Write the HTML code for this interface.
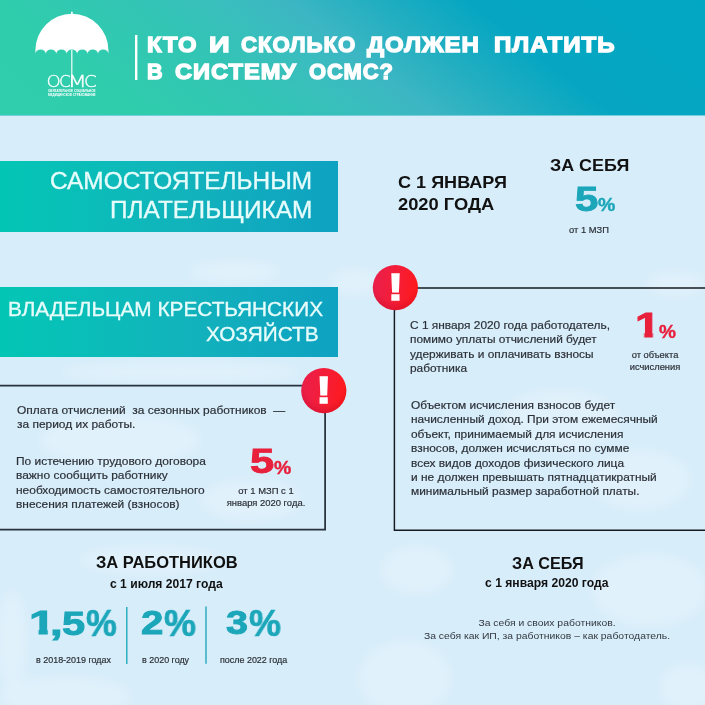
<!DOCTYPE html>
<html lang="ru">
<head>
<meta charset="utf-8">
<title>Кто и сколько должен платить в систему ОСМС?</title>
<style>
*{margin:0;padding:0;box-sizing:border-box}
html,body{width:705px;height:705px;overflow:hidden}
body{position:relative;background:#d7edfa;font-family:"Liberation Sans",sans-serif;color:#333;}
.abs{position:absolute;white-space:nowrap}
.abs{will-change:transform}
#hdr{left:0;top:0;width:705px;height:115px;box-shadow:0 1px 0 rgba(40,180,192,0.55);background:linear-gradient(38deg,#30ceac 0%,#30cdad 17%,#32c5b4 32%,#3abdbe 44%,#3cb6c3 51%,#22aec1 61%,#06a6c2 72%,#02a7c3 100%)}
.ban{left:0;width:338px;background:linear-gradient(90deg,#03c6b5 0%,#0bbcb9 30%,#12b3bc 55%,#10a9bf 80%,#0ea2c1 100%)}
.big{font-weight:bold;line-height:1}
</style>
</head>
<body>
<div id="hdr" class="abs"></div>
<div class="abs" id="t0" style="top:33.71px;font-size:21.6px;line-height:21.6px;color:#fff;font-weight:bold;letter-spacing:0.9px;left:146.78px;transform:scaleX(1.103);transform-origin:0 50%;-webkit-text-stroke:1.3px #fff;">КТО</div>
<div class="abs" id="t1" style="top:33.71px;font-size:21.6px;line-height:21.6px;color:#fff;font-weight:bold;letter-spacing:0.9px;left:208.52px;transform:scaleX(1.3289);transform-origin:0 50%;-webkit-text-stroke:1.3px #fff;">И</div>
<div class="abs" id="t2" style="top:33.71px;font-size:21.6px;line-height:21.6px;color:#fff;font-weight:bold;letter-spacing:0.9px;left:240.77px;transform:scaleX(1.0287);transform-origin:0 50%;-webkit-text-stroke:1.3px #fff;">СКОЛЬКО</div>
<div class="abs" id="t3" style="top:33.71px;font-size:21.6px;line-height:21.6px;color:#fff;font-weight:bold;letter-spacing:0.9px;left:366.62px;transform:scaleX(1.1103);transform-origin:0 50%;-webkit-text-stroke:1.3px #fff;">ДОЛЖЕН</div>
<div class="abs" id="t4" style="top:33.71px;font-size:21.6px;line-height:21.6px;color:#fff;font-weight:bold;letter-spacing:0.9px;left:494.18px;transform:scaleX(1.1164);transform-origin:0 50%;-webkit-text-stroke:1.3px #fff;">ПЛАТИТЬ</div>
<div class="abs" id="t5" style="top:61.41px;font-size:21.6px;line-height:21.6px;color:#fff;font-weight:bold;letter-spacing:0.9px;left:146.81px;transform:scaleX(1.0008);transform-origin:0 50%;-webkit-text-stroke:1.3px #fff;">В</div>
<div class="abs" id="t6" style="top:61.41px;font-size:21.6px;line-height:21.6px;color:#fff;font-weight:bold;letter-spacing:0.9px;left:175.21px;transform:scaleX(1.0947);transform-origin:0 50%;-webkit-text-stroke:1.3px #fff;">СИСТЕМУ</div>
<div class="abs" id="t7" style="top:61.41px;font-size:21.6px;line-height:21.6px;color:#fff;font-weight:bold;letter-spacing:0.9px;left:309.06px;transform:scaleX(1.0163);transform-origin:0 50%;-webkit-text-stroke:1.3px #fff;">ОСМС?</div>
<svg class="abs" style="left:0;top:116px" width="705" height="589" viewBox="0 116 705 589">
<defs><filter id="bl" x="-30%" y="-30%" width="160%" height="160%"><feGaussianBlur stdDeviation="6"/></filter></defs>
<g fill="#fff" opacity="0.24" filter="url(#bl)">
<ellipse cx="417" cy="570" rx="36" ry="24"/>
<ellipse cx="405" cy="678" rx="46" ry="38"/>
<ellipse cx="650" cy="590" rx="58" ry="36"/>
<ellipse cx="688" cy="688" rx="28" ry="24"/>
<ellipse cx="65" cy="697" rx="66" ry="20"/>
<ellipse cx="12" cy="640" rx="14" ry="50"/>
<ellipse cx="235" cy="272" rx="46" ry="11"/>
<ellipse cx="355" cy="282" rx="26" ry="13"/>
<ellipse cx="676" cy="284" rx="30" ry="12"/>
<ellipse cx="180" cy="372" rx="120" ry="10"/>
<ellipse cx="150" cy="560" rx="70" ry="14"/>
<ellipse cx="560" cy="420" rx="60" ry="30"/>
<ellipse cx="120" cy="440" rx="80" ry="26"/>
<ellipse cx="250" cy="500" rx="50" ry="20"/>
<ellipse cx="640" cy="480" rx="50" ry="30"/>
</g>
</svg>
<div class="abs ban" style="top:161px;height:71px"></div>
<div class="abs" id="b1" style="top:169.42px;font-size:24.42px;line-height:24.42px;color:#e6fcfb;right:393px;-webkit-text-stroke:0.35px #e6fcfb;">САМОСТОЯТЕЛЬНЫМ</div>
<div class="abs" id="b2" style="top:197.92px;font-size:24.42px;line-height:24.42px;color:#e6fcfb;right:393px;-webkit-text-stroke:0.35px #e6fcfb;">ПЛАТЕЛЬЩИКАМ</div>
<div class="abs ban" style="top:287px;height:70px"></div>
<div class="abs" id="b3" style="top:298.99px;font-size:20.8px;line-height:20.8px;color:#e6fcfb;left:7.6px;-webkit-text-stroke:0.35px #e6fcfb;">ВЛАДЕЛЬЦАМ КРЕСТЬЯНСКИХ</div>
<div class="abs" id="b4" style="top:323.79px;font-size:20.8px;line-height:20.8px;color:#e6fcfb;right:386.5px;-webkit-text-stroke:0.35px #e6fcfb;">ХОЗЯЙСТВ</div>
<svg class="abs" style="left:0;top:0" width="705" height="705" viewBox="0 0 705 705">
<defs>
<linearGradient id="rg" x1="0" y1="0.35" x2="1" y2="0.5"><stop offset="0" stop-color="#ea1f4b"/><stop offset="0.55" stop-color="#f51d36"/><stop offset="1" stop-color="#ff1a1c"/></linearGradient>
<radialGradient id="rs" cx="0.5" cy="0.35" r="0.75"><stop offset="0.6" stop-color="#b00020" stop-opacity="0"/><stop offset="1" stop-color="#b00020" stop-opacity="0.45"/></radialGradient>

</defs>
<!-- header bar -->
<rect x="135" y="35" width="2.4" height="45" fill="#fff"/>
<!-- umbrella logo -->
<g fill="#fff">
<path d="M35.4 50.3 A36.5 36.6 0 0 1 108.4 50.3 L108.4 53.8 A5.2 4.4 0 0 0 98 53.8 A5.2 4.4 0 0 0 87.55 53.8 A5.2 4.4 0 0 0 77.1 53.8 A5.2 4.4 0 0 0 66.7 53.8 A5.2 4.4 0 0 0 56.25 53.8 A5.2 4.4 0 0 0 45.8 53.8 A5.2 4.4 0 0 0 35.4 53.8 Z"/>
<rect x="71.1" y="11.6" width="1.6" height="3" rx="0.8"/>
<rect x="71.25" y="50" width="1.15" height="37"/>
</g>
<g fill="#fff" stroke="#fff" stroke-width="0.3" font-family="'DejaVu Sans',sans-serif" font-weight="200" font-size="16.2">
<text id="lo1" transform="translate(48 0) scale(1.12 1)" x="-1.3" y="87">О</text><text id="lo2" transform="translate(60.4 0) scale(1.04 1)" x="-1.3" y="87">С</text><text id="lo3" transform="translate(71.3 0) scale(1.36 1)" x="-2.6" y="87">М</text><text id="lo4" transform="translate(85.4 0) scale(1.13 1)" x="-1.3" y="87">С</text>
</g>
<g fill="#fff" font-family="'Liberation Sans',sans-serif" font-weight="bold" font-size="3.5">
<text x="48" y="92" textLength="47.6" lengthAdjust="spacingAndGlyphs">ОБЯЗАТЕЛЬНОЕ СОЦИАЛЬНОЕ</text>
<text x="48" y="96" textLength="47.6" lengthAdjust="spacingAndGlyphs">МЕДИЦИНСКОЕ СТРАХОВАНИЕ</text>
</g>
<!-- boxes -->
<g fill="none" stroke="#161b21" stroke-width="1.45">
<polyline points="706,287.9 394.4,287.9 394.4,530.3 706,530.3"/>
<polyline points="-1,385.7 325.1,385.7 325.1,529.6 -1,529.6" stroke="#28323d" stroke-width="1.75"/>
</g>
<g stroke="#1ba6b9" stroke-width="1.35"><line x1="126.8" y1="607" x2="126.8" y2="664"/><line x1="206" y1="606.6" x2="206" y2="663.8"/></g>
<g transform="translate(395.4 287.6)"><circle r="22.6" fill="url(#rg)"/><circle r="22.6" fill="url(#rs)"/>
<text x="0" y="12.3" text-anchor="middle" font-family="'Liberation Sans',sans-serif" font-weight="bold" font-size="37.6" fill="#fff" stroke="#fff" stroke-width="1.5" transform="scale(1.2,1)">!</text></g>
<g transform="translate(323.8 390.6)"><circle r="22.6" fill="url(#rg)"/><circle r="22.6" fill="url(#rs)"/>
<text x="0" y="12.3" text-anchor="middle" font-family="'Liberation Sans',sans-serif" font-weight="bold" font-size="37.6" fill="#fff" stroke="#fff" stroke-width="1.5" transform="scale(1.2,1)">!</text></g>
</svg>
<div class="abs" id="h1" style="top:174.13px;font-size:16.5px;line-height:16.5px;color:#111;font-weight:bold;left:397.6px;transform:scaleX(1.095);transform-origin:0 50%;">С 1 ЯНВАРЯ</div>
<div class="abs" id="h2" style="top:195.83px;font-size:16.5px;line-height:16.5px;color:#111;font-weight:bold;left:397.6px;transform:scaleX(1.11);transform-origin:0 50%;">2020 ГОДА</div>
<div class="abs" id="h3" style="top:157.33px;font-size:16.5px;line-height:16.5px;color:#111;font-weight:bold;left:550.2px;transform:scaleX(1.085);transform-origin:0 50%;">ЗА СЕБЯ</div>
<div class="abs big" id="n1" style="left:574.7px;top:181.01px;font-size:35.3px;line-height:35.3px;color:#1ba6b9;transform:scaleX(1.19);transform-origin:0 50%;-webkit-text-stroke:0.9px #1ba6b9;">5</div>
<div class="abs big" id="n1p" style="left:597.6px;top:196.34px;font-size:18.5px;line-height:18.5px;color:#1ba6b9;transform:scaleX(1.05);transform-origin:0 50%;-webkit-text-stroke:0.4px #1ba6b9;">%</div>
<div class="abs" id="s1" style="top:225.63px;font-size:8.7px;line-height:8.7px;color:#2b2f36;left:388.79999999999995px;width:400px;text-align:center;transform:scaleX(1.0747);transform-origin:50% 50%;-webkit-text-stroke:0.18px #2b2f36;">от 1 МЗП</div>
<div class="abs" id="p1" style="top:318.01px;font-size:11.0px;line-height:14.35px;color:#2b2f36;left:409.8px;transform:scaleX(1.08);transform-origin:0 50%;-webkit-text-stroke:0.18px #2b2f36;">С 1 января 2020 года работодатель,<br>помимо уплаты отчислений будет<br>удерживать и оплачивать взносы<br>работника</div>
<div class="abs" id="p2" style="top:398.49px;font-size:11.0px;line-height:14.4px;color:#2b2f36;left:410.9px;transform:scaleX(1.0818);transform-origin:0 50%;-webkit-text-stroke:0.18px #2b2f36;">Объектом исчисления взносов будет<br>начисленный доход. При этом ежемесячный<br>объект, принимаемый для исчисления<br>взносов, должен исчисляться по сумме<br>всех видов доходов физического лица<br>и не должен превышать пятнадцатикратный<br>минимальный размер заработной платы.</div>
<div class="abs big" id="n2" style="left:635.3px;top:306.51px;font-size:35.3px;line-height:35.3px;color:#e8203c;transform:scaleX(1.28);transform-origin:0 50%;-webkit-text-stroke:0.9px #e8203c;clip-path:polygon(-3px -3px,130% -3px,130% 25.42px,13.99px 25.42px,13.99px 120%,7.19px 120%,7.19px 25.42px,-3px 25.42px);">1</div>
<div class="abs big" id="n2p" style="left:658.6px;top:322.84px;font-size:18.5px;line-height:18.5px;color:#e8203c;transform:scaleX(1.03);transform-origin:0 50%;-webkit-text-stroke:0.4px #e8203c;">%</div>
<div class="abs" id="s2" style="top:350.03px;font-size:8.7px;line-height:11.5px;color:#2b2f36;left:505.25px;width:300px;text-align:center;transform:scaleX(1.0747);transform-origin:50% 50%;-webkit-text-stroke:0.18px #2b2f36;">от объекта<br>исчисления</div>
<div class="abs" id="p3" style="top:403.26px;font-size:11.0px;line-height:14.45px;color:#2b2f36;left:16.5px;transform:scaleX(1.0855);transform-origin:0 50%;-webkit-text-stroke:0.18px #2b2f36;">Оплата отчислений&nbsp; за сезонных работников&nbsp; —<br>за период их работы.</div>
<div class="abs" id="p4" style="top:453.96px;font-size:11.0px;line-height:14.25px;color:#2b2f36;left:15.9px;transform:scaleX(1.0864);transform-origin:0 50%;-webkit-text-stroke:0.18px #2b2f36;">По истечению трудового договора<br>важно сообщить работнику<br>необходимость самостоятельного<br>внесения платежей (взносов)</div>
<div class="abs big" id="n3" style="left:250.3px;top:443.31px;font-size:35.3px;line-height:35.3px;color:#e8203c;transform:scaleX(1.235);transform-origin:0 50%;-webkit-text-stroke:0.9px #e8203c;">5</div>
<div class="abs big" id="n3p" style="left:273.6px;top:458.74px;font-size:18.5px;line-height:18.5px;color:#e8203c;transform:scaleX(1.05);transform-origin:0 50%;-webkit-text-stroke:0.4px #e8203c;">%</div>
<div class="abs" id="s3" style="top:485.33px;font-size:8.7px;line-height:12.1px;color:#2b2f36;left:115.60000000000002px;width:300px;text-align:center;transform:scaleX(1.085);transform-origin:50% 50%;-webkit-text-stroke:0.18px #2b2f36;">от 1 МЗП с 1<br>января 2020 года.</div>
<div class="abs" id="h4" style="top:553.93px;font-size:16.5px;line-height:16.5px;color:#111;font-weight:bold;left:96px;">ЗА РАБОТНИКОВ</div>
<div class="abs" id="h5" style="top:577.84px;font-size:12.12px;line-height:12.12px;color:#111;font-weight:bold;left:109.6px;">с 1 июля 2017 года</div>
<div class="abs big" id="n4a" style="left:28.5px;top:606.36px;font-size:33px;line-height:33px;color:#1ba6b9;transform:scaleX(1.43);transform-origin:0 50%;-webkit-text-stroke:0.9px #1ba6b9;clip-path:polygon(-3px -3px,130% -3px,130% 23.76px,13.12px 23.76px,13.12px 120%,6.67px 120%,6.67px 23.76px,-3px 23.76px);">1</div>
<div class="abs big" id="n4b" style="left:49.8px;top:606.66px;font-size:33px;line-height:33px;color:#1ba6b9;transform:scaleX(1.38);transform-origin:0 50%;-webkit-text-stroke:0.9px #1ba6b9;">,</div>
<div class="abs big" id="n4c" style="left:62.3px;top:606.66px;font-size:33px;line-height:33px;color:#1ba6b9;transform:scaleX(1.26);transform-origin:0 50%;-webkit-text-stroke:0.9px #1ba6b9;">5</div>
<div class="abs big" id="n4d" style="left:86.2px;top:605.20px;font-size:37.2px;line-height:37.2px;color:#1ba6b9;transform:scaleX(0.93);transform-origin:0 50%;-webkit-text-stroke:0.7px #1ba6b9;">%</div>
<div class="abs big" id="n5a" style="left:140.6px;top:606.36px;font-size:33px;line-height:33px;color:#1ba6b9;transform:scaleX(1.22);transform-origin:0 50%;-webkit-text-stroke:0.9px #1ba6b9;">2</div>
<div class="abs big" id="n5b" style="left:164.1px;top:605.46px;font-size:37.6px;line-height:37.6px;color:#1ba6b9;transform:scaleX(0.955);transform-origin:0 50%;-webkit-text-stroke:0.7px #1ba6b9;">%</div>
<div class="abs big" id="n6a" style="left:226.2px;top:606.36px;font-size:33px;line-height:33px;color:#1ba6b9;transform:scaleX(1.2);transform-origin:0 50%;-webkit-text-stroke:0.9px #1ba6b9;">3</div>
<div class="abs big" id="n6b" style="left:249.1px;top:605.46px;font-size:37.6px;line-height:37.6px;color:#1ba6b9;transform:scaleX(0.955);transform-origin:0 50%;-webkit-text-stroke:0.7px #1ba6b9;">%</div>
<div class="abs" id="s4" style="top:655.99px;font-size:8.4px;line-height:8.4px;color:#2b2f36;left:36px;transform:scaleX(1.0663);transform-origin:0 50%;-webkit-text-stroke:0.18px #2b2f36;">в 2018-2019 годах</div>
<div class="abs" id="s5" style="top:655.99px;font-size:8.4px;line-height:8.4px;color:#2b2f36;left:142.2px;transform:scaleX(1.0663);transform-origin:0 50%;-webkit-text-stroke:0.18px #2b2f36;">в 2020 году</div>
<div class="abs" id="s6" style="top:655.99px;font-size:8.4px;line-height:8.4px;color:#2b2f36;left:220px;transform:scaleX(1.0663);transform-origin:0 50%;-webkit-text-stroke:0.18px #2b2f36;">после 2022 года</div>
<div class="abs" id="h6" style="top:554.68px;font-size:16.2px;line-height:16.2px;color:#111;font-weight:bold;left:511.6px;">ЗА СЕБЯ</div>
<div class="abs" id="h7" style="top:577.21px;font-size:12.15px;line-height:12.15px;color:#111;font-weight:bold;left:485px;">с 1 января 2020 года</div>
<div class="abs" id="s7" style="top:616.24px;font-size:9.7px;line-height:13.4px;color:#33383f;left:397.20000000000005px;width:300px;text-align:center;transform:scaleX(1.0722);transform-origin:50% 50%;">За себя и своих работников.<br>За себя как ИП, за работников – как работодатель.</div>
</body>
</html>
